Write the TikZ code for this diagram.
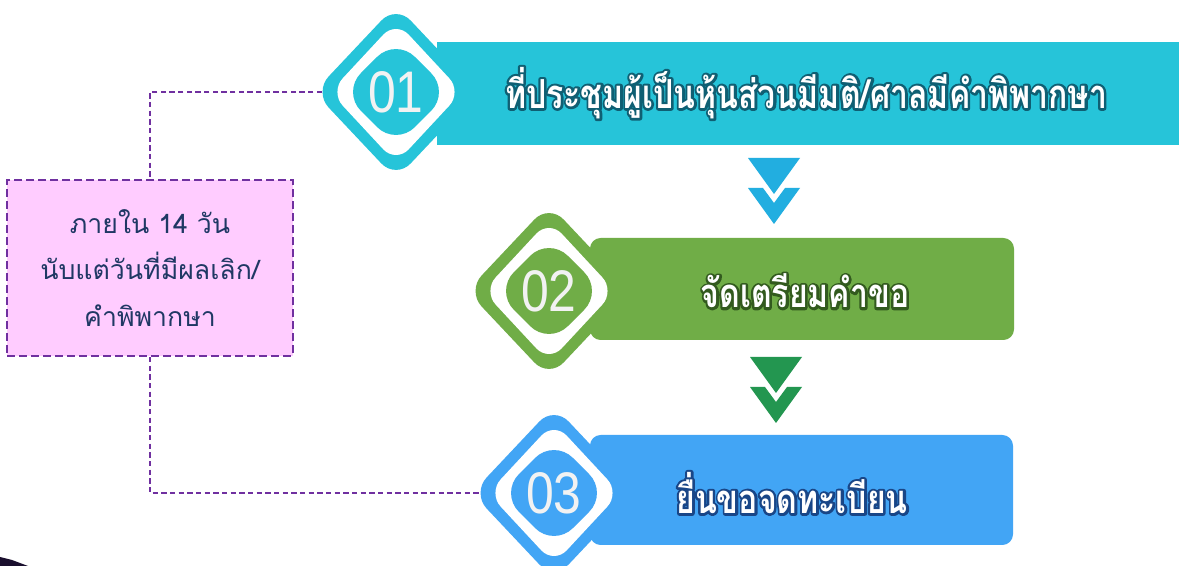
\documentclass[tikz,border=0pt]{standalone}
\usepackage{fontspec}
\newfontfamily\thaifont[Script=Thai]{Loma}
\newfontfamily\thaibar[Script=Thai,FakeStretch=0.8]{Loma Bold}
\newfontfamily\numfont[FakeStretch=0.85]{Liberation Sans}
\definecolor{barteal}{RGB}{38,196,217}
\definecolor{bargreen}{RGB}{112,173,71}
\definecolor{barblue}{RGB}{66,165,245}
\definecolor{chevblue}{RGB}{34,174,224}
\definecolor{chevgreen}{RGB}{35,150,80}
\definecolor{dashpurple}{RGB}{112,48,160}
\definecolor{boxpink}{RGB}{255,204,255}
\definecolor{boxtext}{RGB}{31,56,100}
\definecolor{numwhite}{RGB}{242,242,242}
\definecolor{glowteal}{RGB}{15,95,115}
\definecolor{glowgreen}{RGB}{50,90,30}
\definecolor{glowblue}{RGB}{25,70,135}
\definecolor{cornerdark}{RGB}{26,15,46}
\newcommand\glowtext[2]{\leavevmode\rlap{\color{#1}\special{pdf:literal direct 1 Tr 3.6 w 1 j}#2\special{pdf:literal direct 0 Tr}}#2}
\newcommand\stepdiamond[2]{%
  \begin{scope}[shift={(#1)}]
    \fill[#2, rounded corners=16] (-82,0) -- (0,-87) -- (82,0) -- (0,87) -- cycle;
    \fill[white, rounded corners=14] (-66,0) -- (0,-71) -- (66,0) -- (0,71) -- cycle;
    \fill[#2, rounded corners=20] (-54,0) -- (0,-54) -- (54,0) -- (0,54) -- cycle;
  \end{scope}}
\newcommand\chevron[2]{%
  \begin{scope}[shift={(#1)}]
    \fill[#2] (-26,0) -- (26,0) -- (0,36) -- cycle;
    \fill[#2] (-26,30) -- (-11,30) -- (0,45) -- (11,30) -- (26,30) -- (0,66) -- cycle;
  \end{scope}}
\begin{document}
\begin{tikzpicture}[x=0.75pt,y=-0.75pt,
  numtext/.style={text=numwhite, font=\numfont\fontsize{44}{44}\selectfont, inner sep=0pt},
  bartext/.style={text=white, font=\thaibar\fontsize{30}{34}\selectfont, inner sep=0pt},
  dashline/.style={draw=dashpurple, line width=0.9pt, dash pattern=on 4pt off 2.5pt},
  notebox/.style={draw=dashpurple, fill=boxpink, line width=1.6pt, dash pattern=on 6pt off 3pt,
    minimum width=214pt, minimum height=132pt, align=center, text=boxtext,
    font=\thaifont\fontsize{20}{35}\selectfont}]
\useasboundingbox (0,0) rectangle (1179,566);
\clip (0,0) rectangle (1179,566);
\fill[white] (0,0) rectangle (1179,566);
% corner artifact
\fill[cornerdark] (0,557) -- (12,560) -- (28,566) -- (0,566) -- cycle;
% coordinates
\coordinate (d1) at (396,92);
\coordinate (d2) at (549,291);
\coordinate (d3) at (554,493);
\coordinate (d1w) at (322,92);
\coordinate (d3w) at (480,493);
% bars
\fill[barteal] (437,42) rectangle (1185,145);
\fill[bargreen, rounded corners=8] (590,238) -- (1014,238) -- (1014,340) -- (590,340) -- cycle;
\fill[barblue, rounded corners=8] (590,435) -- (1013,435) -- (1013,545) -- (590,545) -- cycle;
% diamonds
\stepdiamond{d1}{barteal}
\stepdiamond{d2}{bargreen}
\stepdiamond{d3}{barblue}
\node[numtext] (n1) at (d1) {01};
\node[numtext] (n2) at (d2) {02};
\node[numtext] (n3) at (d3) {03};
% bar texts
\node[bartext] (t1) at (806,93) {\glowtext{glowteal}{ที่ประชุมผู้เป็นหุ้นส่วนมีมติ/ศาลมีคำพิพากษา}};
\node[bartext] (t2) at (805,291) {\glowtext{glowgreen}{จัดเตรียมคำขอ}};
\node[bartext] (t3) at (792,493) {\glowtext{glowblue}{ยื่นขอจดทะเบียน}};
% chevrons
\chevron{774,158}{chevblue}
\chevron{776,357}{chevgreen}
% note box
\node[notebox] (note) at (150,268) {ภายใน 14 วัน\\นับแต่วันที่มีผลเลิก/\\คำพิพากษา};
\draw[dashline] (d1w) -| (note.north);
\draw[dashline] (note.south) |- (d3w);
\end{tikzpicture}
\end{document}
